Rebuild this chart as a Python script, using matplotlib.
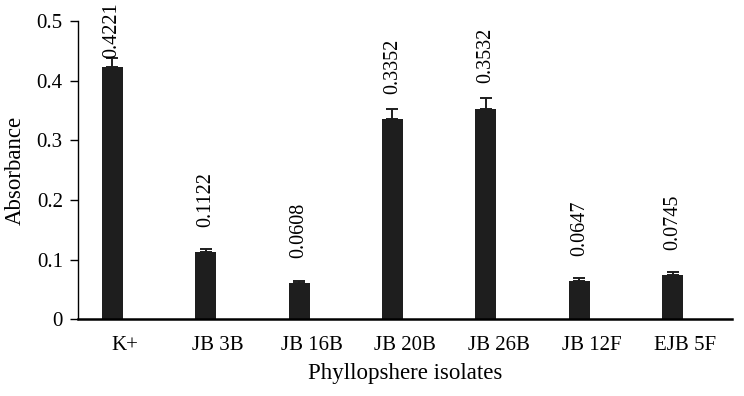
import matplotlib.pyplot as plt
import numpy as np

# data
isolates = ['K+', 'JB 3B', 'JB 16B', 'JB 20B', 'JB 26B', 'JB 12F', 'EJB 5F']
absorbance = [0.4221, 0.1122, 0.0608, 0.3352, 0.3532, 0.0647, 0.0745]
err = [0.016, 0.006, 0.004, 0.017, 0.018, 0.004, 0.005]
yticks = [0, 0.1, 0.2, 0.3, 0.4, 0.5]
ytick_labels = ['0', '0.1', '0.2', '0.3', '0.4', '0.5']

plt.rcParams['font.family'] = ['Liberation Serif', 'DejaVu Serif']

fig = plt.figure(figsize=(7.44, 3.96), dpi=100)
ax = fig.add_axes([0.105, 0.194, 0.879, 0.753])

x = np.arange(len(isolates))
xb = x - 0.135  # bars sit left of the category centre
ax.bar(xb, absorbance, width=0.225, color='#1e1e1e', zorder=2)
ax.errorbar(xb, absorbance, yerr=[np.zeros(len(err)), err], fmt='none',
            ecolor='#1e1e1e', elinewidth=1.4, capsize=4.5, capthick=1.4, zorder=3)

# value labels above bars (the tallest is pushed down to fit)
for xi, v in zip(xb, absorbance):
    ypos = min(v + 0.042, 0.438)
    ax.text(xi, ypos, f'{v:.4f}', rotation=90, ha='center', va='bottom',
            fontsize=14.5, zorder=4)

ax.set_xlim(-0.5, len(isolates) - 0.5)
ax.set_ylim(0, 0.5)
ax.set_xticks(x)
ax.set_xticklabels(isolates, fontsize=15)
ax.set_yticks(yticks)
ax.set_yticklabels(ytick_labels, fontsize=15)
ax.tick_params(axis='x', length=0, pad=12)
ax.tick_params(axis='y', length=6, width=1, pad=5)

for s in ['top', 'right']:
    ax.spines[s].set_visible(False)
ax.spines['bottom'].set_linewidth(1.8)
ax.spines['left'].set_linewidth(1.0)

ax.set_xlabel('Phyllopshere isolates', fontsize=16.5, labelpad=6)
ax.set_ylabel('Absorbance', fontsize=16.5, labelpad=8)

fig.savefig('out.png', dpi=100)
